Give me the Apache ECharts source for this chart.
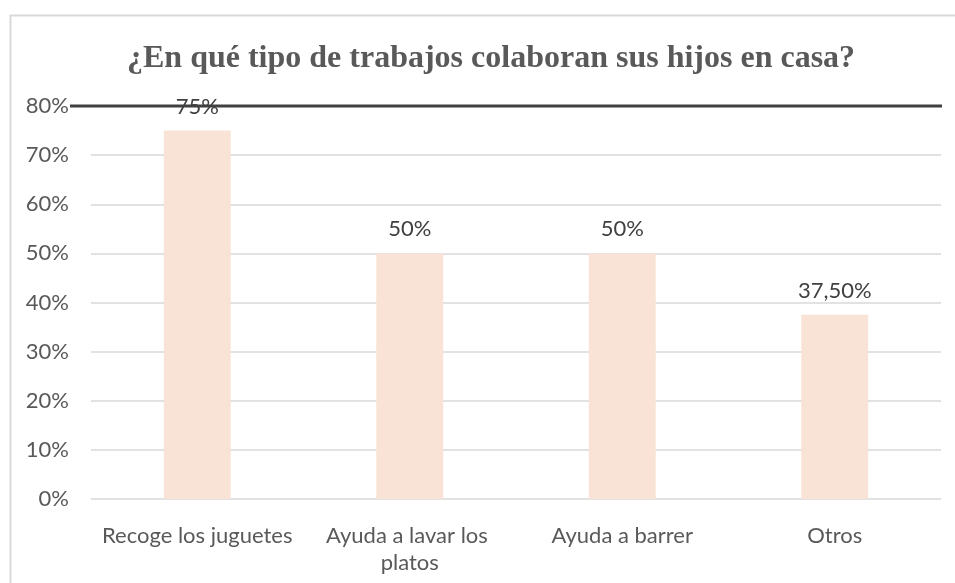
<!DOCTYPE html>
<html>
<head>
<meta charset="utf-8">
<script src="https://cdn.jsdelivr.net/npm/echarts@6/dist/echarts.min.js"></script>
<style>
  html, body { margin: 0; padding: 0; background: #fff; }
  #main { width: 955px; height: 583px; }
</style>
</head>
<body>
<div id="main"></div>
<script>
// datos del gráfico
var titulo = '¿En qué tipo de trabajos colaboran sus hijos en casa?';
var categorias = ['Recoge los juguetes', 'Ayuda a lavar los platos', 'Ayuda a barrer', 'Otros'];
var valores = [75, 50, 50, 37.5];
var ejeMax = 80;
var ejeIntervalo = 10;

function fmtPct(v) {
    if (Math.round(v) === v) return v + '%';
    return v.toFixed(2).replace('.', ',') + '%';
}

var myChart = echarts.init(document.getElementById('main'));

var option = {
    animation: false,
    title: {
        text: titulo,
        left: 122,
        top: 38,
        textStyle: {
            fontFamily: 'Liberation Serif',
            fontWeight: 'bold',
            fontSize: 32,
            color: '#595959'
        }
    },
    grid: {
        left: 91,
        right: 14,
        top: 106,
        bottom: 84,
        containLabel: false
    },
    xAxis: {
        type: 'category',
        data: categorias,
        axisLine: { show: false },
        axisTick: { show: false },
        axisLabel: {
            color: '#595959',
            fontFamily: 'Lato',
            fontSize: 22,
            margin: 23,
            lineHeight: 27,
            width: 205,
            overflow: 'break',
            interval: 0
        }
    },
    yAxis: {
        type: 'value',
        min: 0,
        max: ejeMax,
        interval: ejeIntervalo,
        axisLine: { show: false },
        axisTick: { show: false },
        axisLabel: {
            formatter: '{value}%',
            color: '#595959',
            fontFamily: 'Lato',
            fontSize: 22,
            margin: 22
        },
        splitLine: {
            lineStyle: { color: '#d9d9d9', width: 1.5 }
        }
    },
    series: [{
        type: 'bar',
        data: valores,
        barWidth: '31.5%',
        itemStyle: { color: '#f8e3d6' },
        label: {
            show: true,
            position: 'top',
            distance: 13,
            color: '#404040',
            fontFamily: 'Lato',
            fontSize: 22,
            formatter: function (p) { return fmtPct(p.value); }
        }
    }]
};

myChart.setOption(option);

// borde del gráfico y línea oscura en el máximo del eje
var yTop = myChart.convertToPixel({ yAxisIndex: 0 }, ejeMax);
myChart.setOption({
    graphic: [{
        type: 'rect',
        shape: { x: 10.5, y: 15.5, width: 960, height: 600 },
        style: { fill: null, stroke: '#d9d9d9', lineWidth: 2 },
        silent: true
    }, {
        type: 'line',
        shape: { x1: 70, y1: yTop, x2: 942, y2: yTop },
        style: { stroke: '#404040', lineWidth: 3 },
        z: 1,
        silent: true
    }]
});
</script>
</body>
</html>
